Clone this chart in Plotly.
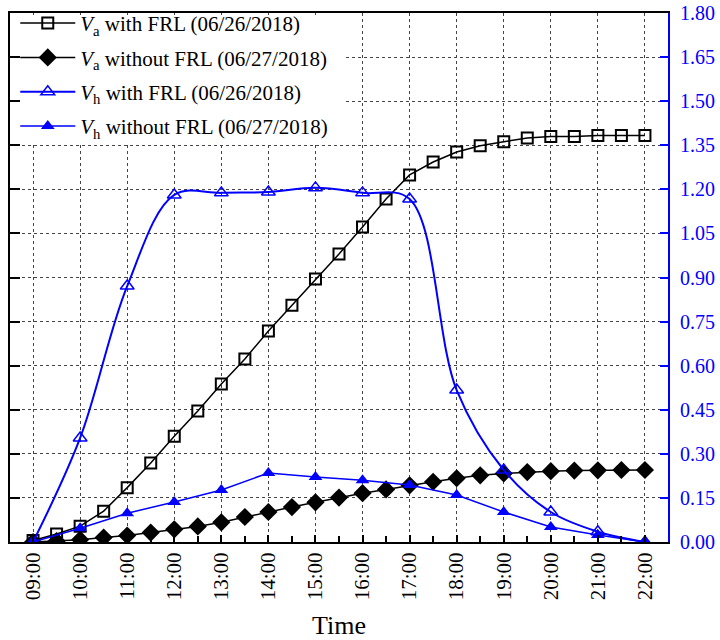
import plotly.graph_objects as go

# ---- data ----
hours_half = [9 + 0.5 * i for i in range(27)]
hours_full = list(range(9, 23))

va_with = [0.005, 0.027, 0.054, 0.105, 0.185, 0.269, 0.360, 0.446, 0.538, 0.623,
           0.718, 0.806, 0.895, 0.980, 1.072, 1.167, 1.249, 1.293, 1.327, 1.348,
           1.362, 1.375, 1.380, 1.380, 1.383, 1.383, 1.383]
va_without = [0.0, 0.003, 0.008, 0.015, 0.022, 0.032, 0.043, 0.053, 0.067, 0.085,
              0.102, 0.119, 0.135, 0.151, 0.166, 0.179, 0.193, 0.205, 0.217, 0.227,
              0.233, 0.238, 0.241, 0.243, 0.244, 0.245, 0.245]
vh_with = [0.0, 0.354, 0.871, 1.181, 1.188, 1.191, 1.205, 1.188, 1.167, 0.517,
           0.245, 0.102, 0.035, 0.0]
vh_without = [0.0, 0.047, 0.098, 0.136, 0.177, 0.235, 0.221, 0.210, 0.194, 0.160,
              0.102, 0.051, 0.024, 0.0]

tick_vals = hours_full
tick_text = ["09:00", "10:00", "11:00", "12:00", "13:00", "14:00", "15:00",
             "16:00", "17:00", "18:00", "19:00", "20:00", "21:00", "22:00"]

names = [
    "<i>V</i><sub>a</sub> with FRL (06/26/2018)",
    "<i>V</i><sub>a</sub> without FRL (06/27/2018)",
    "<i>V</i><sub>h</sub> with FRL (06/26/2018)",
    "<i>V</i><sub>h</sub> without FRL (06/27/2018)",
]

FONT = "Liberation Serif, Times New Roman, serif"
BLUE = "#0000ff"
X_RANGE = [8.51, 22.49]
Y_RANGE = [0, 1.8]

fig = go.Figure()
fig.add_trace(go.Scatter(
    x=hours_half, y=va_with, name=names[0], mode="lines+markers", legendgroup="g1",
    line=dict(color="black", width=1.5),
    marker=dict(symbol="square-open", size=11, color="black", line=dict(width=2)),
    yaxis="y"))
fig.add_trace(go.Scatter(
    x=hours_half, y=va_without, name=names[1], mode="lines+markers", legendgroup="g2",
    line=dict(color="black", width=1.5),
    marker=dict(symbol="diamond", size=14, color="black"),
    yaxis="y"))
fig.add_trace(go.Scatter(
    x=hours_full, y=vh_with, name=names[2], mode="lines+markers", legendgroup="g3",
    line=dict(color=BLUE, width=2, shape="spline", smoothing=1),
    marker=dict(symbol="triangle-up-open", size=12, color=BLUE, line=dict(width=1.5)),
    yaxis="y2"))
fig.add_trace(go.Scatter(
    x=hours_full, y=vh_without, name=names[3], mode="lines+markers", legendgroup="g4",
    line=dict(color=BLUE, width=1.5),
    marker=dict(symbol="triangle-up", size=12, color=BLUE),
    yaxis="y2"))

grid = dict(showgrid=True, gridcolor="#444444", gridwidth=1, griddash="3px,3px")

# white panel behind the legend (hides the grid there), placed via axis fractions
xs = X_RANGE[1] - X_RANGE[0]
ys = Y_RANGE[1] - Y_RANGE[0]
legend_panel = dict(type="rect", xref="x", yref="y",
                    x0=X_RANGE[0] + 0.004 * xs, x1=X_RANGE[0] + 0.51 * xs,
                    y0=Y_RANGE[0] + 0.755 * ys, y1=Y_RANGE[0] + 0.996 * ys,
                    fillcolor="white", line=dict(width=0), layer="between")

fig.update_layout(
    width=720, height=640,
    margin=dict(l=10, r=52, t=13, b=98, autoexpand=False),
    paper_bgcolor="white", plot_bgcolor="white",
    font=dict(family=FONT, size=20, color="black"),
    showlegend=True,
    legend=dict(x=0.008, y=1.019, xanchor="left", yanchor="top",
                bgcolor="rgba(0,0,0,0)", borderwidth=0,
                font=dict(family=FONT, size=21, color="black"),
                itemwidth=55, tracegroupgap=4),
    shapes=[legend_panel],
    xaxis=dict(
        range=X_RANGE, tickvals=tick_vals, ticktext=tick_text,
        tickangle=-90, ticks="inside", ticklen=7, tickwidth=2, tickcolor="black",
        minor=dict(dtick=0.5, tick0=9, ticks="inside", ticklen=6, tickwidth=1.5,
                   tickcolor="black", showgrid=False),
        showline=True, linecolor="black", linewidth=2, mirror=True,
        tickfont=dict(family=FONT, size=21, color="black"),
        title=dict(text="Time", font=dict(family=FONT, size=26, color="black"), standoff=22),
        zeroline=False, **grid),
    yaxis=dict(
        range=Y_RANGE, dtick=0.15, tick0=0, showticklabels=False,
        ticks="inside", ticklen=10, tickwidth=2, tickcolor="black",
        showline=True, linecolor="black", linewidth=2,
        zeroline=False, **grid),
    yaxis2=dict(
        range=Y_RANGE, dtick=0.15, tick0=0, overlaying="y", side="right",
        tickformat=".2f", ticks="inside", ticklen=8, tickwidth=2, tickcolor=BLUE,
        showline=True, linecolor=BLUE, linewidth=2, showgrid=False, zeroline=False,
        tickfont=dict(family=FONT, size=20, color=BLUE), ticklabelstandoff=6),
)

fig.write_html("out.html")
